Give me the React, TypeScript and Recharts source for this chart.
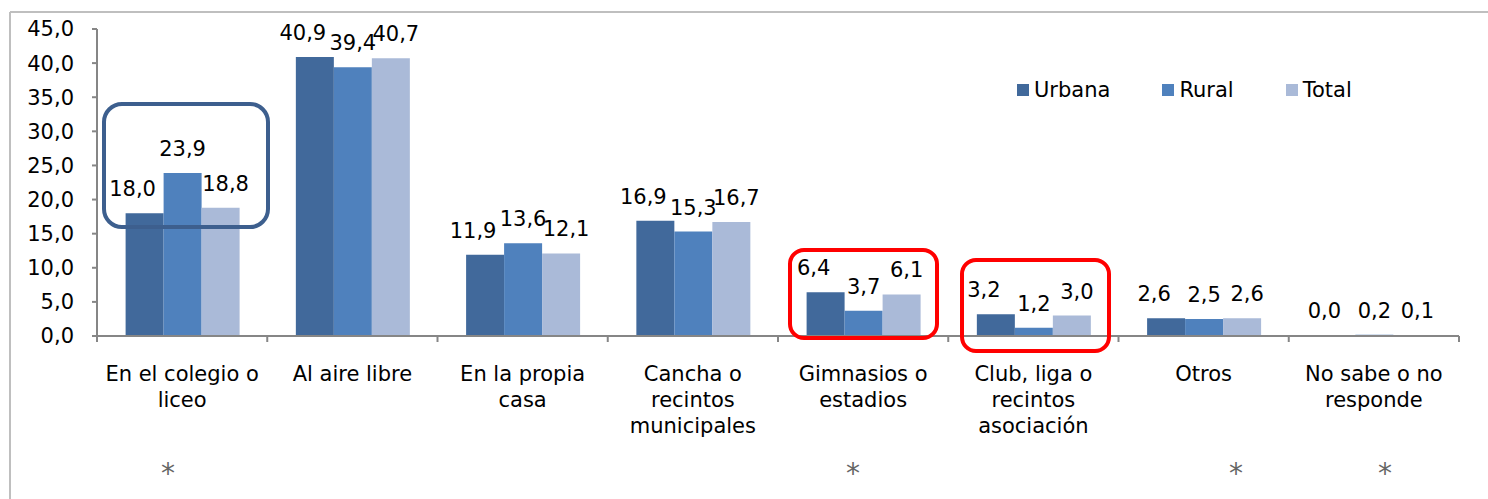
import { BarChart, Bar, XAxis, YAxis, LabelList } from 'recharts'

const categories = [
  'En el colegio o\nliceo',
  'Al aire libre',
  'En la propia\ncasa',
  'Cancha o\nrecintos\nmunicipales',
  'Gimnasios o\nestadios',
  'Club, liga o\nrecintos\nasociación',
  'Otros',
  'No sabe o no\nresponde',
]
const urbana = [18.0, 40.9, 11.9, 16.9, 6.4, 3.2, 2.6, 0.0]
const rural = [23.9, 39.4, 13.6, 15.3, 3.7, 1.2, 2.5, 0.2]
const total = [18.8, 40.7, 12.1, 16.7, 6.1, 3.0, 2.6, 0.1]
const yTicks = [0, 5, 10, 15, 20, 25, 30, 35, 40, 45]

const data = categories.map((name, i) => ({
  name,
  urbana: urbana[i],
  rural: rural[i],
  total: total[i],
}))

const W = 1488
const H = 499
const MARGIN = { top: 29, right: 29, left: 0, bottom: 0 }
const Y_WIDTH = 97
const X_HEIGHT = 163
const PLOT_W = W - MARGIN.left - MARGIN.right - Y_WIDTH
const STEP = PLOT_W / categories.length

const FONT = '"DejaVu Sans", Verdana, sans-serif'
const FS = 21
const AXIS = '#868686'

const SERIES = [
  { key: 'urbana', name: 'Urbana', color: '#41699B', dx: -12 },
  { key: 'rural', name: 'Rural', color: '#4F81BD', dx: 0 },
  { key: 'total', name: 'Total', color: '#AABAD8', dx: 5 },
]

const fmt = (v: number) => v.toFixed(1).replace('.', ',')

function CategoryTick(props: any) {
  const { x, y, payload, index } = props
  const lines = String(payload.value).split('\n')
  const left = x - STEP / 2
  return (
    <g>
      <line x1={left} x2={left} y1={y} y2={y + 6} stroke={AXIS} strokeWidth={2} />
      {index === categories.length - 1 && (
        <line x1={x + STEP / 2} x2={x + STEP / 2} y1={y} y2={y + 6} stroke={AXIS} strokeWidth={2} />
      )}
      <text x={x} y={y + 45} textAnchor="middle" fontSize={FS} fill="#000" fontFamily={FONT}>
        {lines.map((l, i) => (
          <tspan key={i} x={x} dy={i === 0 ? 0 : 26}>
            {l}
          </tspan>
        ))}
      </text>
    </g>
  )
}

const makeLabel = (dx: number) => (props: any) => {
  const { x, y, width, value } = props
  return (
    <text
      x={Number(x) + Number(width) / 2 + dx}
      y={Number(y) - 17}
      textAnchor="middle"
      fontSize={FS}
      fill="#000"
      fontFamily={FONT}
    >
      {fmt(Number(value))}
    </text>
  )
}

export default function App() {
  return (
    <div style={{ position: 'relative', width: W, height: H, background: '#fff', overflow: 'hidden' }}>
      <style>{'body{margin:0}'}</style>
      <BarChart
        width={W}
        height={H}
        data={data}
        margin={MARGIN}
        barCategoryGap="16.8%"
        barGap={0}
      >
        {SERIES.map((s) => (
          <Bar
            key={s.key}
            dataKey={s.key}
            name={s.name}
            fill={s.color}
            minPointSize={1}
            isAnimationActive={false}
          >
            <LabelList dataKey={s.key} content={makeLabel(s.dx)} />
          </Bar>
        ))}
        <XAxis
          dataKey="name"
          interval={0}
          height={X_HEIGHT}
          axisLine={{ stroke: AXIS, strokeWidth: 2 }}
          tickLine={false}
          tickSize={0}
          tickMargin={0}
          tick={<CategoryTick />}
        />
        <YAxis
          domain={[0, 45]}
          ticks={yTicks}
          width={Y_WIDTH}
          tickFormatter={fmt}
          axisLine={{ stroke: AXIS, strokeWidth: 2 }}
          tickLine={{ stroke: AXIS, strokeWidth: 2 }}
          tickSize={5}
          tickMargin={18}
          tick={{ fontSize: FS, fill: '#000', fontFamily: FONT }}
        />
      </BarChart>

      {/* legend */}
      <div
        style={{
          position: 'absolute',
          left: 1017,
          top: 77,
          display: 'flex',
          alignItems: 'center',
          fontFamily: FONT,
          fontSize: FS,
          lineHeight: '26px',
        }}
      >
        {SERIES.map((s) => (
          <div key={s.key} style={{ display: 'flex', alignItems: 'center', marginRight: 52 }}>
            <span style={{ width: 12, height: 12, background: s.color, display: 'inline-block', marginRight: 5 }} />
            <span style={{ color: '#000' }}>{s.name}</span>
          </div>
        ))}
      </div>

      {/* frame, highlight boxes and asterisks */}
      <svg width={W} height={H} style={{ position: 'absolute', left: 0, top: 0, pointerEvents: 'none' }}>
        <line x1={10} y1={12} x2={W} y2={12} stroke="#BFBFBF" strokeWidth={2} />
        <line x1={10} y1={12} x2={10} y2={H} stroke="#BFBFBF" strokeWidth={2} />
        <rect x={104} y={104} width={164} height={123} rx={18} fill="none" stroke="#3D5F8E" strokeWidth={4} />
        <rect x={790} y={250} width={147} height={88} rx={14} fill="none" stroke="#FF0000" strokeWidth={4} />
        <rect x={962} y={260} width={147} height={91} rx={14} fill="none" stroke="#FF0000" strokeWidth={4} />
        {[168, 853, 1236, 1385].map((ax) => (
          <text key={ax} x={ax} y={483} textAnchor="middle" fontSize={28} fill="#666" fontFamily={FONT}>
            *
          </text>
        ))}
      </svg>
    </div>
  )
}
